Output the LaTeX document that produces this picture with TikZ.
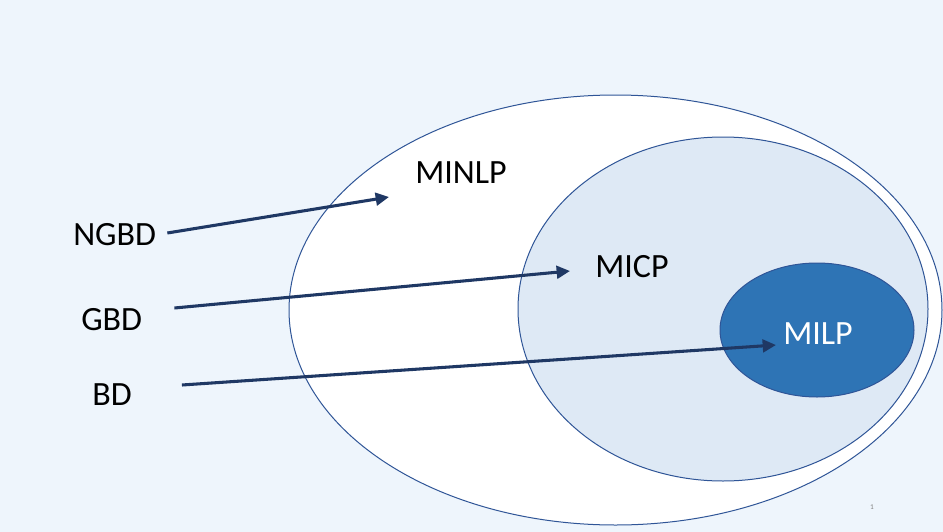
\documentclass[tikz,border=0pt]{standalone}
\usepackage{fontspec}
\setmainfont{Carlito}
\usetikzlibrary{shapes.geometric,arrows.meta}
\definecolor{pagebg}{HTML}{EEF5FC}
\definecolor{setedge}{HTML}{2F5597}
\definecolor{micpfill}{HTML}{DEE9F5}
\definecolor{milpfill}{HTML}{2E74B5}
\definecolor{arrowcol}{HTML}{1F3864}
\tikzset{
  setshape/.style={draw=setedge, line width=0.75pt, ellipse, inner sep=0pt},
  label/.style={anchor=west, inner sep=0pt, font=\fontsize{25.5}{30}\selectfont},
  reduction/.style={draw=arrowcol, line width=2.3pt,
    -{Triangle[length=10pt,width=9.5pt]}}
}
\begin{document}
\begin{tikzpicture}[x=0.75pt,y=-0.75pt]
  \useasboundingbox (0,0) rectangle (943,532);
  \fill[pagebg] (0,0) rectangle (943,532);

  % nested problem classes
  \node[setshape, fill=white, minimum width=489.75pt, minimum height=322.5pt] (minlpset) at (615.5,310) {};
  \node[setshape, fill=micpfill, minimum width=307.5pt, minimum height=258pt] (micpset) at (723,309) {};
  \node[setshape, fill=milpfill, minimum width=145.5pt, minimum height=100.5pt] (milpset) at (817,330) {};

  % class labels
  \node[label] (minlp) at (415,172.5) {MINLP};
  \node[label] (micp) at (595,267) {MICP};
  \node[label, text=white] (milp) at (783,334) {MILP};

  % decomposition methods
  \node[label] (ngbd) at (73,235) {NGBD};
  \node[label] (gbd) at (81,320) {GBD};
  \node[label] (bd) at (92,395) {BD};

  \coordinate (minlpin) at (389,197);
  \coordinate (micpin) at (570,271);
  \coordinate (milpin) at (776,345);

  \draw[reduction] ([shift={(11,-2)}]ngbd.east) -- (minlpin);
  \draw[reduction] ([shift={(32,-12)}]gbd.east) -- (micpin);
  \draw[reduction] ([shift={(50,-10)}]bd.east) -- (milpin);

  \node[text=gray, font=\fontsize{5.5}{6}\selectfont, inner sep=0pt] (pagenum) at (872,507) {1};
\end{tikzpicture}
\end{document}
